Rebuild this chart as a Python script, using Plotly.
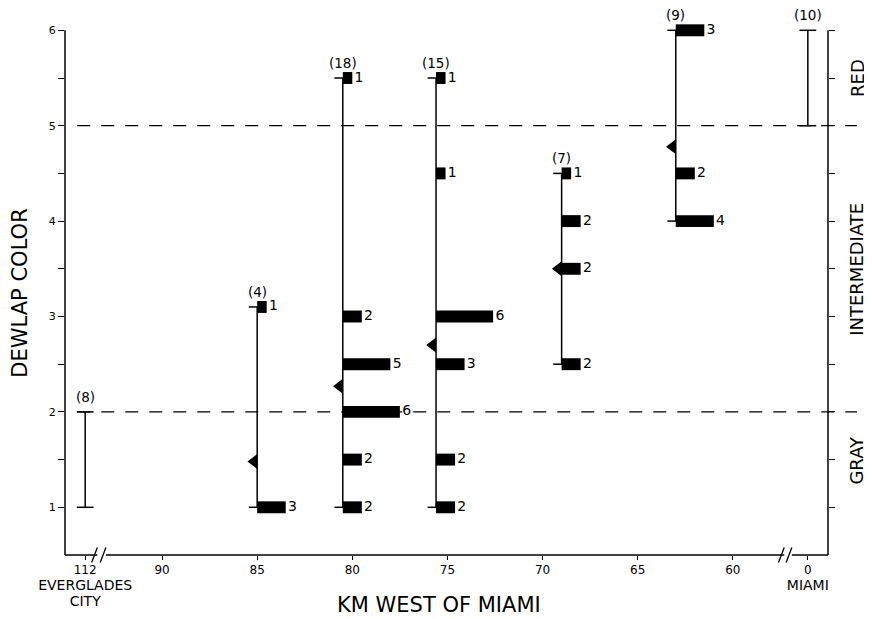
import plotly.graph_objects as go

# ---------------- data ----------------
POP_KM   = [112, 85, 80.5, 75.6, 69.0, 63, 0]
POP_N    = [8, 4, 18, 15, 7, 9, 10]
POP_MIN  = [1, 1, 1, 1, 2.5, 4, 5]
POP_MAX  = [2, 3.1, 5.5, 5.5, 4.5, 6, 6]
POP_MEAN = [None, 1.48, 2.27, 2.7, 3.5, 4.78, None]

# histogram bars per population (dewlap colour score -> count)
BARS_85_COLOR = [1, 3.1]
BARS_85_COUNT = [3, 1]
BARS_80_COLOR = [1, 1.5, 2, 2.5, 3, 5.5]
BARS_80_COUNT = [2, 2, 6, 5, 2, 1]
BARS_75_COLOR = [1, 1.5, 2.5, 3, 4.5, 5.5]
BARS_75_COUNT = [2, 2, 3, 6, 1, 1]
BARS_69_COLOR = [2.5, 3.5, 4, 4.5]
BARS_69_COUNT = [2, 2, 2, 1]
BARS_63_COLOR = [4, 4.5, 6]
BARS_63_COUNT = [4, 2, 3]

X_TICK_KM = [112, 90, 85, 80, 75, 70, 65, 60, 0]
X_TICK_TEXT = ["112<br><span style='font-size:14px'>EVERGLADES</span><br><span style='font-size:14px'>CITY</span>",
               "90", "85", "80", "75", "70", "65", "60",
               "0<br><span style='font-size:14px'>MIAMI</span>"]
Y_TICKS = [1, 1.5, 2, 2.5, 3, 3.5, 4, 4.5, 5, 5.5, 6]
CLASS_LABELS = ["GRAY", "INTERMEDIATE", "RED"]
CLASS_CENTERS = [1.5, 3.5, 5.5]
CLASS_BOUNDS = [2, 5]

# ---------------- broken x-axis transform ----------------
BROKEN = {112: 94.04, 0: 56.06}


def dx(km):
    return BROKEN.get(km, km)


KM_PER_COUNT = 0.5      # bar length scale
BAR_H = 0.125           # bar thickness in colour units
TRI_SHIFT = 0.17        # triangle sits left of the line
FONT = "DejaVu Sans"
Y_LO, Y_HI = 0.5, 6.108   # a little headroom so the top bar is not clipped
AX_LO, AX_HI = 0.5, 6     # drawn extent of the vertical axes

fig = go.Figure()

bar_sets = {
    85: (BARS_85_COLOR, BARS_85_COUNT),
    80.5: (BARS_80_COLOR, BARS_80_COUNT),
    75.6: (BARS_75_COLOR, BARS_75_COUNT),
    69.0: (BARS_69_COLOR, BARS_69_COUNT),
    63: (BARS_63_COLOR, BARS_63_COUNT),
}

# vertical range lines with caps
for km, lo, hi in zip(POP_KM, POP_MIN, POP_MAX):
    fig.add_trace(go.Scatter(
        x=[dx(km), dx(km)], y=[lo, hi], mode="lines+markers",
        line=dict(color="black", width=1.5),
        marker=dict(symbol="line-ew", size=12, line=dict(color="black", width=1.5)),
        showlegend=False, hoverinfo="skip", cliponaxis=False))

# histogram bars
for km, (cols, cnts) in bar_sets.items():
    fig.add_trace(go.Bar(
        orientation="h", y=cols, x=[-c * KM_PER_COUNT for c in cnts],
        base=dx(km), width=BAR_H, marker=dict(color="black", line=dict(width=0)),
        showlegend=False, hoverinfo="skip", cliponaxis=False))
    fig.add_trace(go.Scatter(
        x=[dx(km) - c * KM_PER_COUNT - 0.12 for c in cnts], y=cols, mode="text",
        text=[str(c) for c in cnts], textposition="middle right",
        textfont=dict(family=FONT, size=14, color="black"),
        showlegend=False, hoverinfo="skip", cliponaxis=False))

# mean triangles
mx = [dx(k) + TRI_SHIFT for k, m in zip(POP_KM, POP_MEAN) if m is not None]
my = [m for m in POP_MEAN if m is not None]
fig.add_trace(go.Scatter(
    x=mx, y=my, mode="markers",
    marker=dict(symbol="triangle-left", size=13, color="black", line=dict(width=0)),
    showlegend=False, hoverinfo="skip"))

# invisible trace to carry the right-hand axis
fig.add_trace(go.Scatter(x=[dx(60)], y=[3], yaxis="y2", mode="markers",
                         marker=dict(opacity=0), showlegend=False, hoverinfo="skip"))

# sample size labels
for km, hi, n in zip(POP_KM, POP_MAX, POP_N):
    fig.add_annotation(x=dx(km), y=hi, text=f"({n})", showarrow=False,
                       yshift=15, font=dict(family=FONT, size=13.5, color="black"))

# class boundaries (dashed)
for b in CLASS_BOUNDS:
    fig.add_shape(type="line", xref="paper", yref="y", x0=0.016, x1=1.038, y0=b, y1=b,
                  line=dict(color="black", width=1.3, dash="13px,11px"), layer="below")

# vertical axis lines (left and right)
for xp in [0, 1]:
    fig.add_shape(type="line", xref="paper", yref="y", x0=xp, x1=xp, y0=AX_LO, y1=AX_HI,
                  line=dict(color="black", width=1.5))

# class labels on the right
for lab, c in zip(CLASS_LABELS, CLASS_CENTERS):
    fig.add_annotation(xref="paper", yref="y", x=1.038, y=c, text=lab, textangle=-90,
                       xanchor="center", showarrow=False,
                       font=dict(family=FONT, size=18, color="black"))

# bottom axis line with breaks
segs = [(95.1, 93.4), (92.95, 57.3), (56.9, 55.0)]
for a, b in segs:
    fig.add_shape(type="line", xref="x", yref="paper", x0=a, x1=b, y0=0, y1=0,
                  line=dict(color="black", width=1.5))
for s in [93.55, 93.1, 57.45, 57.05]:
    fig.add_shape(type="line", xref="x", yref="paper", x0=s + 0.15, x1=s - 0.15,
                  y0=-0.014, y1=0.014, line=dict(color="black", width=1.3))

# axis titles
fig.add_annotation(xref="paper", yref="y", x=-0.059, y=3.25, text="DEWLAP COLOR",
                   textangle=-90, xanchor="center", yanchor="middle", showarrow=False,
                   font=dict(family=FONT, size=21, color="black"))
fig.add_annotation(xref="paper", yref="paper", x=0.49, y=0, yshift=-50,
                   text="KM WEST OF MIAMI", xanchor="center", yanchor="middle",
                   showarrow=False, font=dict(family=FONT, size=21, color="black"))

tick_common = dict(ticks="outside", ticklen=6, tickwidth=1.3, tickcolor="black",
                   tickvals=Y_TICKS, showgrid=False, zeroline=False, showline=False,
                   automargin=False, range=[Y_LO, Y_HI])

fig.update_layout(
    width=872, height=619,
    margin=dict(l=57, r=52, t=12, b=72, autoexpand=False),
    paper_bgcolor="white", plot_bgcolor="white",
    barmode="overlay", showlegend=False,
    font=dict(family=FONT, color="black"),
    xaxis=dict(range=[95.1, 55.0], showgrid=False, zeroline=False, showline=False,
               automargin=False,
               tickvals=[dx(k) for k in X_TICK_KM], ticktext=X_TICK_TEXT,
               ticks="outside", ticklen=4, tickwidth=1.3, tickcolor="black",
               tickfont=dict(family=FONT, size=12, color="black")),
    yaxis=dict(**tick_common,
               ticktext=[str(int(v)) if v == int(v) else "" for v in Y_TICKS],
               tickfont=dict(family=FONT, size=11, color="black")),
    yaxis2=dict(**tick_common, overlaying="y", side="right",
                ticktext=["" for v in Y_TICKS]),
)

fig.write_html("out.html")
